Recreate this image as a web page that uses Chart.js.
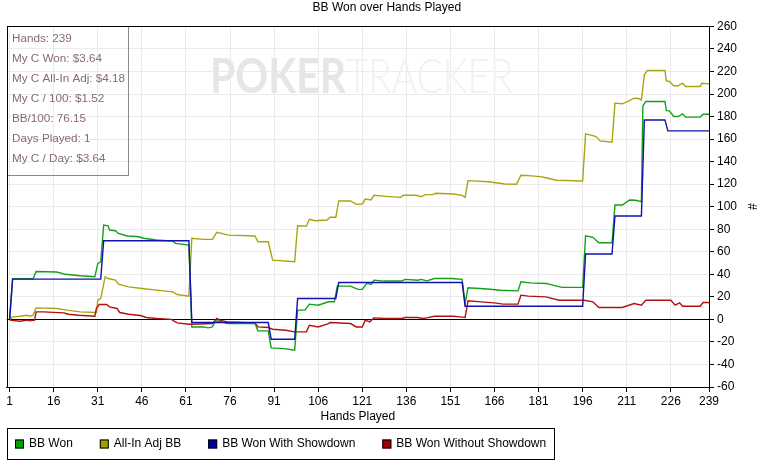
<!DOCTYPE html>
<html>
<head>
<meta charset="utf-8">
<title>BB Won over Hands Played</title>
<script src="https://cdn.jsdelivr.net/npm/chart.js@4.4.1/dist/chart.umd.min.js"></script>
<style>
    html, body { margin: 0; padding: 0; background: #fff; }
</style>
</head>
<body>
<canvas id="chart" width="767" height="466"></canvas>
<script>
// Tick labels of the hands axis
const handTicks = [1, 16, 31, 46, 61, 76, 91, 106, 121, 136, 151, 166, 181, 196, 211, 226, 239];

// Session summary shown top left
const statsLines = [
    'Hands: 239',
    'My C Won: $3.64',
    'My C All-In Adj: $4.18',
    'My C / 100: $1.52',
    'BB/100: 76.15',
    'Days Played: 1',
    'My C / Day: $3.64'
];

// [hand, BB]
const bbWon = [
    [1, 0], [2, 36], [9, 36], [10, 42.5], [17, 42], [20, 40], [25, 38.7], [30, 37.8], [31, 49.7], [32, 51],
    [33, 83.7], [34.5, 83], [35, 79.3], [37, 78.7], [38, 76.3], [41, 74], [45, 73.3], [46.5, 72], [51, 70.4],
    [56.5, 69.5], [57.5, 67.5], [62, 66], [63, -6.7], [67, -6.7], [68.5, -7.5], [70, -6.7], [71, -1.3],
    [72.5, -1.6], [75, -3.7], [84.5, -3.7], [85.5, -10.2], [89, -10.2], [90, -25.3], [94.5, -25.9], [98, -27.4],
    [99, 8.2], [101.5, 8.2], [103, 13.5], [106, 12.6], [109.5, 15.6], [111.5, 15.6], [112.5, 29.5], [117, 29.5],
    [119.5, 26.6], [121, 26.6], [122.5, 31.9], [124, 31], [125, 34.8], [128.5, 34], [134.5, 34], [135.5, 35.5],
    [140, 34.8], [141, 35.5], [143, 34.2], [145.5, 36.3], [151.5, 36.3], [155, 35.5], [156, 14.1], [157, 28],
    [161, 27.4], [164.5, 26.8], [168, 25.9], [174, 25.3], [175, 33.3], [178, 32.4], [183.5, 31.9], [189, 28.4],
    [196, 28.4], [197, 74.2], [199.5, 72.8], [201.5, 68], [206, 68], [207, 101.5], [209.5, 101.5], [212, 106],
    [214, 105.7], [216, 104.5], [216.5, 189.5], [217.5, 193.4], [224, 193.4], [224.5, 185.3], [225.5, 185],
    [227, 180], [228.5, 180], [230, 182.4], [231, 179.5], [236, 179.5], [237, 182.1], [239, 182]
];

const allInAdj = [
    [1, 0], [2, 2.2], [4.5, 2.8], [7, 3.7], [8, 2.8], [9, 3.7], [10, 10.2], [17, 9.7], [20.5, 8.2], [25, 6.7],
    [30.5, 6.1], [31, 17], [32, 18.6], [33.5, 37.8], [34.5, 36.3], [37, 34.8], [38, 31.3], [41.5, 28.9],
    [46, 27.4], [51, 26], [56.5, 24.4], [58, 22.1], [62, 20.6], [63, 71.9], [67, 71], [70, 71], [71.5, 77.2],
    [75.5, 74.8], [84.5, 74], [85.5, 68.9], [89, 68.9], [90.5, 52.6], [98, 51.1], [99, 83.1], [102, 82.8],
    [103, 88.8], [105, 87.6], [109, 88.2], [110, 90.6], [112, 90.6], [113, 105.1], [117, 105.1], [119, 102.1],
    [121, 102.4], [122, 106.8], [124, 106], [125, 110.1], [129, 109.2], [134, 108.3], [135, 110.1],
    [139.5, 110.1], [141, 108.9], [142.5, 110.7], [145, 110.7], [146, 111.9], [152, 111.3], [155, 110.1],
    [156, 108.3], [157, 123.1], [164, 122.2], [169.5, 120.2], [173.5, 119.9], [175, 127.9], [177.5, 127.6],
    [181.5, 126.7], [184, 125.5], [187, 123.5], [196, 122.8], [197, 164.6], [199.5, 163.1], [200.5, 162.2],
    [202, 158.4], [206, 157.2], [207, 191.9], [209.5, 191.3], [211.5, 193.7], [213.5, 196.3], [215, 196],
    [216, 194.8], [217, 217], [218, 220.9], [224, 220.9], [224.5, 211.7], [225.5, 211.1], [227, 207.3],
    [228.5, 207.3], [230, 209.6], [231, 206.7], [236, 206.7], [236.5, 209.6], [239, 209]
];

const wonWithSd = [
    [1, 0], [2, 35.7], [32, 35.7], [33, 69.8], [62, 69.8], [63, -2.8], [89, -2.8], [90, -17.6], [98, -17.6],
    [99, 18.6], [112, 18.6], [113, 32.8], [155, 32.8], [156, 11.7], [196, 11.7], [197, 58], [206, 58],
    [207, 91.7], [216, 91.7], [217, 177], [224, 177], [225, 167.3], [239, 167.3]
];

const wonWithoutSd = [
    [1, -0.7], [4.5, -1.6], [7, -0.7], [8, -1.3], [9.5, -0.7], [10, 6.7], [12.5, 6.7], [19.5, 5.8], [21, 4.6],
    [24.5, 3.7], [30, 2.8], [30.5, 9.7], [31.5, 13.2], [34, 13.2], [35, 11.1], [37.5, 9.7], [38.5, 6.1],
    [41.5, 4.6], [45.5, 3.4], [47.5, 1.7], [51, 0.8], [56, 0], [58, -3.1], [62, -4.3], [63, -4.3], [70, -3.7],
    [71.5, 0.8], [72.5, -0.7], [75, -2.2], [84.5, -3.1], [85.5, -6.7], [89, -7.2], [90.5, -8.7], [95, -9.6],
    [98, -11.1], [102, -11.1], [103, -5.2], [106, -6.7], [109.5, -3.7], [110, -2.8], [117, -3.7], [119, -6.7],
    [121, -6.7], [122, -0.7], [123.5, -2.2], [125, 1.3], [128.5, 0.8], [134.5, 0.8], [135.5, 1.7], [140, 1.7],
    [141.5, 0.8], [143, 1.3], [145.5, 2.8], [152, 2.8], [155, 2], [156, 1.7], [157, 16.5], [162.5, 15.3],
    [166, 14.7], [169, 13.5], [174, 13.5], [175, 21.5], [177.5, 20.6], [183.5, 20], [188, 17], [196.5, 17],
    [199.5, 15.6], [201.5, 10.6], [209.5, 10.6], [213.5, 14.1], [216, 12.6], [217.5, 17], [226, 17],
    [227.5, 12.6], [229, 14.7], [230, 11.7], [236, 11.7], [237, 15], [239, 15]
];

const FONT = '"Liberation Sans", Arial, sans-serif';

const toPoints = arr => arr.map(p => ({ x: p[0], y: p[1] }));

function series(label, data, line, box, order) {
    return {
        label: label,
        data: toPoints(data),
        borderColor: line,
        backgroundColor: box,
        borderWidth: 1.4,
        pointRadius: 0,
        tension: 0,
        fill: false,
        order: order
    };
}

// Watermark, frame, stats box and boxed legend
const decorations = {
    id: 'decorations',
    beforeDatasetsDraw(chart) {
        const ctx = chart.ctx;
        ctx.save();
        ctx.textBaseline = 'alphabetic';
        const parts = [
            { text: 'POKER', font: 'bold 48px Lato, sans-serif', color: '#e6e6e6', x: 210, w: 136 },
            { text: 'TRACKER', font: '300 48px Lato, sans-serif', color: '#f1f1f1', x: 346, w: 167 }
        ];
        parts.forEach(p => {
            ctx.font = p.font;
            ctx.fillStyle = p.color;
            const m = ctx.measureText(p.text).width;
            ctx.save();
            ctx.translate(p.x, 93);
            ctx.scale(p.w / m, 1);
            ctx.fillText(p.text, 0, 0);
            ctx.restore();
        });
        ctx.restore();
    },
    afterDraw(chart) {
        const { ctx, chartArea: a } = chart;
        const L = Math.round(a.left) + 0.5;
        const T = Math.round(a.top) + 0.5;
        const R = Math.round(a.right) + 0.5;
        const B = Math.round(a.bottom) + 0.5;
        ctx.save();

        // stats box
        ctx.strokeStyle = '#8a8a8a';
        ctx.lineWidth = 1;
        ctx.strokeRect(L, T, 121, 149);
        ctx.font = '11.7px ' + FONT;
        ctx.fillStyle = '#876979';
        ctx.textBaseline = 'middle';
        ctx.textAlign = 'left';
        statsLines.forEach((s, i) => ctx.fillText(s, L + 4.5, T + 12.5 + i * 20));

        // plot frame
        ctx.strokeStyle = '#000';
        ctx.strokeRect(L, T, R - L, B - T);

        // legend
        const gap = 27;
        const top = chart.height - 38 + 0.5;
        const cy = top + 15.5;
        let x = 15;
        ctx.font = '12px ' + FONT;
        chart.data.datasets.forEach(ds => {
            ctx.fillStyle = ds.backgroundColor;
            ctx.fillRect(x, cy - 4.5, 9, 9);
            ctx.strokeStyle = '#000';
            ctx.strokeRect(x + 0.5, cy - 4, 8, 8);
            ctx.fillStyle = '#000';
            ctx.fillText(ds.label, x + 14, cy);
            x += 14 + ctx.measureText(ds.label).width + gap;
        });
        ctx.strokeStyle = '#000';
        ctx.strokeRect(L, top, Math.round(x - gap + 8 - L), 31);
        ctx.restore();
    }
};

new Chart(document.getElementById('chart'), {
    type: 'line',
    data: {
        datasets: [
            series('BB Won', bbWon, '#14a014', '#00a000', 1),
            series('All-In Adj BB', allInAdj, '#a9a510', '#a0a000', 3),
            series('BB Won With Showdown', wonWithSd, '#1010b4', '#0000a0', 0),
            series('BB Won Without Showdown', wonWithoutSd, '#b41010', '#a00000', 2)
        ]
    },
    options: {
        responsive: false,
        animation: false,
        layout: { padding: { left: 6.7, right: 0, top: 0, bottom: 38 } },
        plugins: {
            legend: { display: false },
            tooltip: { enabled: false },
            title: {
                display: true,
                text: 'BB Won over Hands Played',
                color: '#000',
                font: { family: FONT, size: 12, weight: 'normal' },
                padding: { top: 0, bottom: 12 }
            }
        },
        scales: {
            x: {
                type: 'linear',
                min: 0,
                max: 239,
                afterBuildTicks: scale => { scale.ticks = handTicks.map(v => ({ value: v })); },
                afterFit: scale => { scale.height = 41; },
                ticks: {
                    autoSkip: false,
                    maxRotation: 0,
                    padding: 2,
                    color: '#000',
                    font: { family: FONT, size: 12 },
                    callback: v => String(v)
                },
                grid: { color: '#ebebeb', tickColor: '#000', tickLength: 5 },
                border: { display: true, color: '#000' },
                title: {
                    display: true,
                    text: 'Hands Played',
                    color: '#000',
                    font: { family: FONT, size: 12 },
                    padding: { top: 0, bottom: 4 }
                }
            },
            y: {
                position: 'right',
                min: -60,
                max: 260,
                afterFit: scale => { scale.width = 58; },
                ticks: {
                    stepSize: 20,
                    padding: 3,
                    color: '#000',
                    font: { family: FONT, size: 12 }
                },
                grid: {
                    color: c => (c.tick && c.tick.value === 0 ? '#000' : '#ebebeb'),
                    tickColor: '#000',
                    tickLength: 5
                },
                border: { display: true, color: '#000' },
                title: {
                    display: true,
                    text: '#',
                    color: '#000',
                    font: { family: FONT, size: 12 },
                    padding: { top: 8, bottom: 0 }
                }
            }
        }
    },
    plugins: [decorations]
});
</script>
</body>
</html>
